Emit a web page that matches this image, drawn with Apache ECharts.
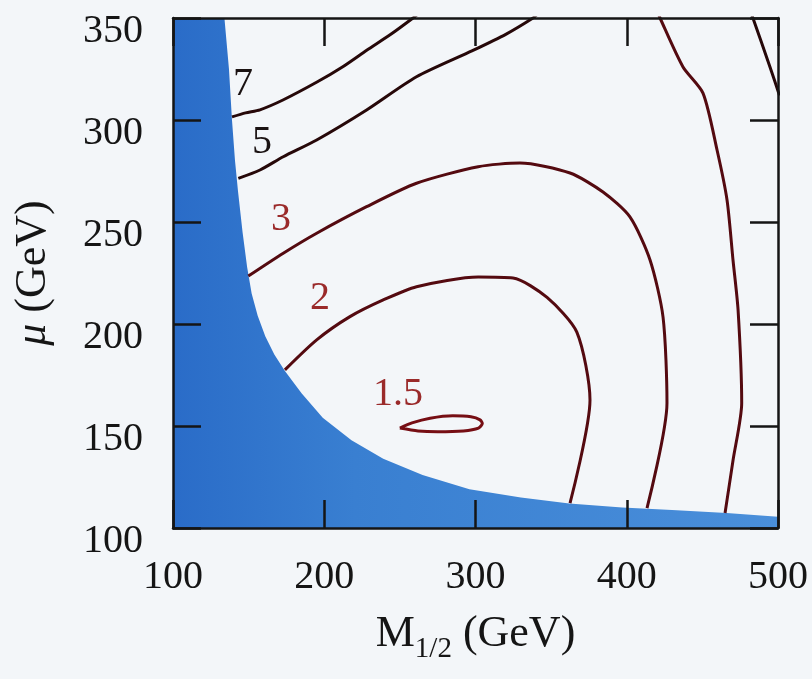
<!DOCTYPE html>
<html>
<head>
<meta charset="utf-8">
<script src="https://cdn.jsdelivr.net/npm/echarts@6/dist/echarts.min.js"></script>
<style>
  html, body { margin: 0; padding: 0; background: #f3f6f9; }
  #chart { width: 812px; height: 679px; }
</style>
</head>
<body>
<div id="chart"></div>
<script>
// Edge of the excluded (shaded) region, [M_1/2, mu] in GeV
const excludedEdge = [
  [100, 350], [134, 350], [137, 325], [139, 300], [141, 280], [143, 265],
  [146, 245], [149, 228], [152, 215], [156, 204], [161, 194], [167, 185],
  [174, 177], [185, 166], [199, 154], [218, 143], [239, 134], [265, 126],
  [296, 119], [330, 115], [362, 112], [397, 110], [430, 108.8], [466, 107.3],
  [500, 105.5]
];

// Contour lines, [M_1/2, mu] in GeV
const contour7a = [[139, 301.5], [148, 303.5], [157.5, 305], [172.7, 309.8], [195.2, 318.6],
  [212, 326], [228.3, 334.3], [244, 342], [258.7, 350], [262, 352]];
const contour7b = [[482, 353], [494.7, 326], [501, 312]];
const contour5a = [[143.2, 271.4], [157.5, 275.5], [172.9, 282], [195, 290.2], [228, 304.9],
  [261, 321.2], [298, 334], [320, 342], [338, 350], [341, 352]];
const contour5b = [[421, 352], [422, 350], [437.2, 326], [450.4, 313.2], [459.7, 285.3],
  [466.3, 260.8], [470.3, 231], [473.6, 206.9], [476, 161.3], [470.3, 133.3], [465, 107.4]];
const contour3 = [[149.8, 223.5], [172.9, 234.7], [195, 244.5], [228, 257.5], [261, 269],
  [301.8, 277.1], [329.4, 278.9], [362.5, 274], [384.3, 264.7], [402.1, 252.5],
  [415.4, 231.4], [424, 203.4], [426.6, 161.3], [413.4, 109.8]];
const contour2 = [[174, 177.5], [195, 192.2], [217, 203.6], [239, 211.8], [261, 218.3],
  [301.8, 223], [324.8, 222.5], [347.3, 213], [367, 196], [375.7, 162.7], [362.5, 112.2]];
const contour15 = [[250, 149], [258, 151.5], [270, 153.8], [285, 155], [297, 154.5],
  [303, 153], [304.5, 151.2], [302, 149], [292, 147.6], [275, 147.2], [262, 147.6], [250, 149]];

// Contour level labels and where they sit
const levelText = ['7', '5', '3', '2', '1.5'];
const levelAt = [[146.3, 317.2], [158.8, 289.2], [171.4, 251], [197.2, 212.7], [248.8, 165.2]];
const levelColor = ['#1a1212', '#1a1212', '#9a2a2a', '#9a2a2a', '#9a2a2a'];

// Axis ranges
const xRange = [100, 500, 100];
const yRange = [100, 350, 50];

const serif = '"Liberation Serif", "DejaVu Serif", serif';
const frameColor = '#151515';
const textColor = '#151515';

function axisBase(range, position, labels) {
  return {
    type: 'value',
    position: position,
    min: range[0], max: range[1], interval: range[2],
    z: 10,
    axisLine: { show: true, onZero: false, lineStyle: { color: frameColor, width: 2.5 } },
    axisTick: { show: true, inside: true, length: 28, lineStyle: { color: frameColor, width: 2.5 } },
    splitLine: { show: false },
    axisLabel: labels ? labels : { show: false }
  };
}

const xMain = axisBase(xRange, 'bottom', {
  show: true, margin: 29, color: textColor,
  fontFamily: serif, fontSize: 40
});
xMain.name = '{m|M}{s|1/2}{m| (GeV)}';
xMain.nameLocation = 'middle';
xMain.nameGap = 76;
xMain.nameTextStyle = {
  color: textColor, fontFamily: serif, fontSize: 44,
  rich: {
    m: { fontFamily: serif, fontSize: 44, lineHeight: 60, verticalAlign: 'middle', color: textColor },
    s: { fontFamily: serif, fontSize: 29, lineHeight: 29, verticalAlign: 'bottom', color: textColor }
  }
};

const yMain = axisBase(yRange, 'left', {
  show: true, margin: 30, color: textColor,
  fontFamily: serif, fontSize: 40, verticalAlign: 'top', lineHeight: 26
});
yMain.name = '{i|μ}{m| (GeV)}';
yMain.nameLocation = 'middle';
yMain.nameGap = 118;
yMain.nameRotate = 90;
yMain.nameTextStyle = {
  color: textColor, fontFamily: serif, fontSize: 44,
  rich: {
    i: { fontFamily: serif, fontSize: 44, fontStyle: 'italic', color: textColor },
    m: { fontFamily: serif, fontSize: 44, color: textColor }
  }
};

function contourLine(data, color) {
  return {
    type: 'line', data: data, showSymbol: false, symbol: 'none',
    smooth: 0.25, z: 5,
    lineStyle: { color: color, width: 3 },
    silent: true
  };
}

const darkLine = '#260809';
const redLine = '#540a10';

const chart = echarts.init(document.getElementById('chart'), null, { renderer: 'canvas' });
chart.setOption({
  backgroundColor: '#f3f6f9',
  animation: false,
  grid: { left: 173, top: 18, width: 605, height: 510, containLabel: false, outerBoundsMode: 'none' },
  xAxis: [xMain, axisBase(xRange, 'top', null)],
  yAxis: [yMain, axisBase(yRange, 'right', null)],
  series: [
    {
      type: 'line', data: excludedEdge, showSymbol: false, symbol: 'none',
      lineStyle: { width: 0 }, z: 2, silent: true,
      areaStyle: {
        origin: 'start', opacity: 1,
        color: new echarts.graphic.LinearGradient(0, 0, 1, 0, [
          { offset: 0, color: '#2a6cc8' },
          { offset: 0.3, color: '#397fd1' },
          { offset: 1, color: '#4a8fda' }
        ])
      }
    },
    contourLine(contour7a, darkLine),
    contourLine(contour7b, darkLine),
    contourLine(contour5a, darkLine),
    contourLine(contour5b, redLine),
    contourLine(contour3, redLine),
    contourLine(contour2, redLine),
    contourLine(contour15, '#760e14'),
    {
      type: 'scatter', symbolSize: 0, z: 6, silent: true,
      itemStyle: { color: '#000', opacity: 1 },
      data: levelAt.map((p, i) => ({
        value: p,
        label: { formatter: levelText[i], color: levelColor[i] }
      })),
      label: {
        show: true, position: [0, 0], align: 'center', verticalAlign: 'middle',
        fontFamily: serif, fontSize: 40, opacity: 1,
        textBorderWidth: 0, textShadowBlur: 0
      }
    }
  ]
});
</script>
</body>
</html>
